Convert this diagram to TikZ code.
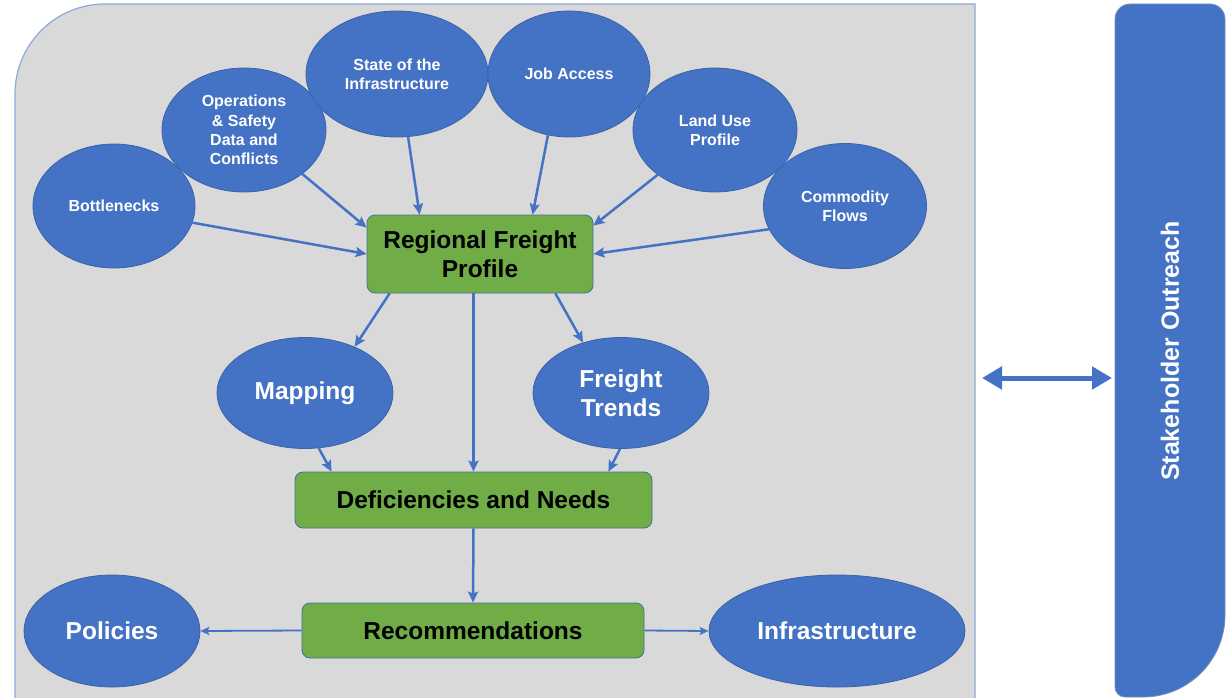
\documentclass[tikz,border=0pt]{standalone}
\usepackage{fontspec}
\setmainfont{Liberation Sans}
\usetikzlibrary{shapes.geometric,arrows.meta,calc}
\definecolor{eblue}{HTML}{4472C4}
\definecolor{eborder}{HTML}{3A62A8}
\definecolor{bgreen}{HTML}{70AD47}
\definecolor{gborder}{HTML}{41719C}
\definecolor{pgray}{HTML}{D9D9D9}
\definecolor{pborder}{HTML}{8EA9DB}
\begin{document}
\begin{tikzpicture}[x=1pt,y=-1pt,
  ell/.style={ellipse, fill=eblue, draw=eborder, line width=0.8pt, inner sep=0pt, text=white, align=center, font=\bfseries\fontsize{16}{19.3}\selectfont},
  bigell/.style={ell, font=\bfseries\fontsize{24.5}{29}\selectfont},
  gbox/.style={rectangle, rounded corners=8pt, fill=bgreen, draw=gborder, line width=0.8pt, align=center, inner sep=0pt, font=\bfseries\fontsize{24.5}{29}\selectfont},
  conn/.style={draw=eblue, line width=2.5pt, -{Stealth[length=11pt,width=10pt,inset=2pt]}},
  thinconn/.style={draw=eblue, line width=1.8pt, -{Stealth[length=9pt,width=8pt,inset=2pt]}},
  dbl/.style={draw=eblue, line width=5pt, {Triangle[length=20pt,width=22pt]}-{Triangle[length=20pt,width=22pt]}}
]
\useasboundingbox (0,0) rectangle (1232,698);
% gray panel
\draw[fill=pgray, draw=pborder, line width=1.2pt]
  (15,700) -- (15,94) .. controls (15,44.3) and (55.3,4) .. (105,4) -- (975,4) -- (975,700);
% stakeholder bar
\draw[fill=eblue, draw=eborder!70, line width=0.8pt]
  (1115,19) .. controls (1115,10.7) and (1121.7,4) .. (1130,4) -- (1210,4)
  .. controls (1218.3,4) and (1225,10.7) .. (1225,19) -- (1225,615)
  .. controls (1225,660.3) and (1188.3,697) .. (1143,697) -- (1125,697)
  .. controls (1119.5,697) and (1115,692.5) .. (1115,687) -- cycle;
\node[rotate=90, text=white, font=\bfseries\fontsize{25}{29}\selectfont] (so) at (1170,351) {Stakeholder Outreach};
\coordinate (pr) at (975,378);
\coordinate (bl) at (1115,378);
\draw[dbl] ([xshift=7pt]pr) -- ([xshift=-3pt]bl);

% top ellipses
\node[ell, minimum width=162pt, minimum height=124pt] (bot) at (114,206) {Bottlenecks};
\node[ell, minimum width=164pt, minimum height=124pt] (ops) at (244,130) {Operations\\\& Safety\\Data and\\Conflicts};
\node[ell, minimum width=182pt, minimum height=126pt] (sta) at (397,74) {State of the\\Infrastructure};
\node[ell, minimum width=162pt, minimum height=126pt] (job) at (569,74) {Job Access};
\node[ell, minimum width=164pt, minimum height=124pt] (land) at (715,130) {Land Use\\Profile};
\node[ell, minimum width=163pt, minimum height=125pt] (com) at (845,206) {Commodity\\Flows};

% boxes
\node[gbox, minimum width=226pt, minimum height=78pt] (rfp) at (480,254) {Regional Freight\\Profile};
\node[gbox, minimum width=357pt, minimum height=56pt] (def) at (473.5,500) {Deficiencies and Needs};
\node[gbox, minimum width=342pt, minimum height=55pt] (rec) at (473,630.5) {Recommendations};

% middle / bottom ellipses
\node[bigell, minimum width=176pt, minimum height=111pt] (map) at (305,393) {Mapping};
\node[bigell, minimum width=176pt, minimum height=111pt] (ft) at (621,393) {Freight\\Trends};
\node[bigell, minimum width=176pt, minimum height=112pt] (pol) at (112,631) {Policies};
\node[bigell, minimum width=256pt, minimum height=112pt] (inf) at (837,631) {Infrastructure};

% connectors into RFP
\draw[conn] (bot.-12) -- (rfp.west);
\draw[conn] (ops.-37) -- ([yshift=-13pt]rfp.north west);
\draw[conn] (sta.-80) -- ([xshift=53pt]rfp.north west);
\draw[conn] (job.-109) -- ([xshift=166pt]rfp.north west);
\draw[conn] (land.-142) -- ([yshift=-11pt]rfp.north east);
\draw[conn] (com.-163) -- (rfp.east);
% from RFP
\draw[conn] ([xshift=23pt]rfp.south west) -- (map.43);
\draw[conn] (rfp.south -| def.north) -- (def.north);
\draw[conn] ([xshift=-38pt]rfp.south east) -- (ft.127);
% into Deficiencies
\draw[conn] (map.-76) -- ([xshift=37pt]def.north west);
\draw[conn] (ft.-91) -- ([xshift=-44pt]def.north east);
% down to recommendations
\draw[conn] (def.south) -- (rec.north);
\draw[thinconn] (rec.west) -- (pol.east);
\draw[thinconn] (rec.east) -- (inf.west);
\end{tikzpicture}
\end{document}
